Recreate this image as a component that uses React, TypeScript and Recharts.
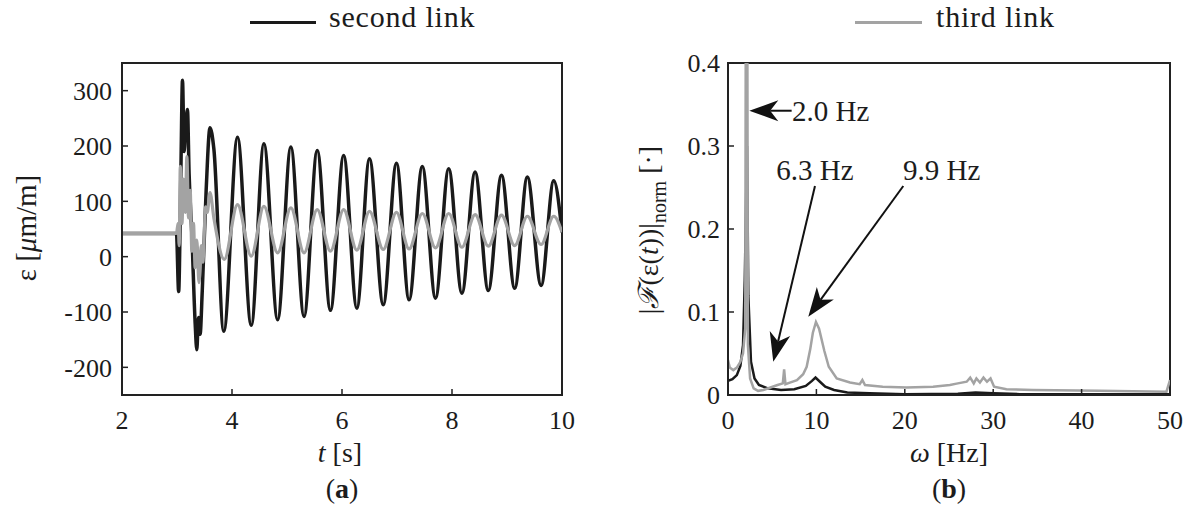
import React from 'react';
import { LineChart, Line, XAxis, YAxis, ReferenceLine, ReferenceDot, ReferenceArea } from 'recharts';

const FONT = '"Liberation Serif", "Times New Roman", serif';
const INK = '#1c1c1c';
const BLACK_LINE = '#1a1a1a';
const GRAY_LINE = '#a3a3a3';

// (a) strain vs time, peaks and troughs
const secondT = [2.0, 2.99, 3.03, 3.07, 3.1, 3.13, 3.16, 3.19, 3.22, 3.27, 3.33, 3.36, 3.39, 3.42, 3.46, 3.53, 3.6, 3.67, 3.85, 4.1, 4.35, 4.58, 4.83, 5.07, 5.31, 5.55, 5.79, 6.03, 6.27, 6.5, 6.75, 6.99, 7.22, 7.46, 7.7, 7.94, 8.18, 8.42, 8.66, 8.9, 9.14, 9.37, 9.62, 9.85, 10.0];
const secondStrain = [42, 42, -63, 150, 319, 190, 240, 266, 150, 40, -120, -168, -110, -140, -60, 120, 233, 195, -135, 216, -124, 204, -114, 198, -108, 192, -97, 183, -93, 177, -87, 169, -78, 163, -75, 159, -66, 153, -61, 147, -57, 144, -52, 137, 44];

const thirdT = [2.0, 2.99, 3.02, 3.04, 3.06, 3.09, 3.12, 3.15, 3.18, 3.21, 3.24, 3.27, 3.3, 3.33, 3.36, 3.4, 3.44, 3.47, 3.52, 3.55, 3.6, 3.67, 3.86, 4.1, 4.35, 4.58, 4.83, 5.07, 5.31, 5.55, 5.79, 6.03, 6.27, 6.5, 6.75, 6.99, 7.22, 7.46, 7.7, 7.94, 8.18, 8.42, 8.66, 8.9, 9.14, 9.37, 9.62, 9.85, 10.0];
const thirdStrain = [42, 42, 60, 20, 163, 60, 140, 80, 181, 70, 120, 10, 60, -20, 30, -47, 20, -10, 90, 80, 116, 70, -5, 94, 1, 91, 7, 88, 7, 85, 10, 85, 12, 82, 13, 80, 14, 78, 16, 78, 17, 76, 19, 75, 20, 73, 22, 73, 44];

// (b) normalised spectrum
const secondF = [0, 0.5, 1.0, 1.4, 1.7, 1.9, 2.15, 2.3, 2.6, 3.0, 3.5, 4.5, 6, 7.5, 8.8, 9.5, 9.9, 10.4, 11, 12, 13.5, 16, 20, 26, 28, 30, 33, 50];
const secondAmp = [0.017, 0.019, 0.024, 0.035, 0.06, 0.14, 0.3, 0.12, 0.04, 0.02, 0.012, 0.008, 0.006, 0.007, 0.011, 0.017, 0.021, 0.016, 0.01, 0.006, 0.003, 0.002, 0.001, 0.0015, 0.003, 0.002, 0.001, 0.001];

const thirdF = [0, 0.2, 0.6, 1.0, 1.4, 1.7, 1.95, 2.1, 2.25, 2.5, 2.9, 3.4, 4.0, 4.8, 5.6, 6.2, 6.35, 6.5, 7.0, 7.8, 8.5, 8.9, 9.3, 9.6, 9.95, 10.3, 10.9, 11.4, 12.3, 13.8, 14.9, 15.2, 15.5, 17.5, 20.2, 23.2, 25.1, 26, 27, 27.4, 27.8, 28.1, 28.5, 28.9, 29.3, 29.7, 30.1, 31.5, 34.5, 42, 49.6, 50];
const thirdAmp = [0.042, 0.033, 0.03, 0.033, 0.04, 0.05, 0.08, 1.0, 0.06, 0.02, 0.008, 0.005, 0.006, 0.009, 0.012, 0.014, 0.031, 0.013, 0.015, 0.018, 0.025, 0.034, 0.055, 0.075, 0.088, 0.08, 0.053, 0.034, 0.02, 0.015, 0.013, 0.018, 0.012, 0.01, 0.009, 0.01, 0.012, 0.014, 0.016, 0.021, 0.014, 0.02, 0.015, 0.021, 0.016, 0.02, 0.01, 0.007, 0.006, 0.005, 0.004, 0.018];

const timeTicks = [2, 4, 6, 8, 10];
const strainTicks = [-200, -100, 0, 100, 200, 300];
const freqTicks = [0, 10, 20, 30, 40, 50];
const ampTicks = [0, 0.1, 0.2, 0.3, 0.4];

// peak annotations in (f, amplitude) units
const peakLabels = [
  { text: '2.0 Hz', f: 7.25, amp: 0.3425, anchor: 'start' },
  { text: '6.3 Hz', f: 9.84, amp: 0.271, anchor: 'middle' },
  { text: '9.9 Hz', f: 24.17, amp: 0.271, anchor: 'middle' },
];
const peakArrows = [
  { f1: 7.2, a1: 0.3425, f2: 2.41, a2: 0.3425 },
  { f1: 9.84, a1: 0.2518, f2: 5.12, a2: 0.0401 },
  { f1: 19.83, a1: 0.2518, f2: 9.08, a2: 0.0943 },
];

const toRows = (xs: number[], ys: number[], xk: string, yk: string) =>
  xs.map((x, i) => ({ [xk]: x, [yk]: ys[i] }));

const secondTime = toRows(secondT, secondStrain, 't', 'v');
const thirdTime = toRows(thirdT, thirdStrain, 't', 'v');
const secondSpec = toRows(secondF, secondAmp, 'f', 'v');
const thirdSpec = toRows(thirdF, thirdAmp, 'f', 'v');

const tickFont = { fill: INK, fontSize: 26, fontFamily: FONT };
const frame = { stroke: '#222', strokeWidth: 2 };
const tickMark = { stroke: '#222', strokeWidth: 1.5 };
const blank = () => '';
const margin = { top: 63, bottom: 53 };

const Arrow = (props: any) => {
  const { x1, y1, x2, y2 } = props;
  const ang = Math.atan2(y2 - y1, x2 - x1);
  const c = Math.cos(ang);
  const s = Math.sin(ang);
  const len = 29;
  const half = 10.5;
  const bx = x2 - len * c;
  const by = y2 - len * s;
  const nx = x2 - len * 0.72 * c;
  const ny = y2 - len * 0.72 * s;
  const pts = [
    [x2, y2],
    [bx - s * half, by + c * half],
    [nx, ny],
    [bx + s * half, by - c * half],
  ].map((p) => p.join(',')).join(' ');
  return (
    <g>
      <line x1={x1} y1={y1} x2={nx} y2={ny} stroke="#111" strokeWidth={2} />
      <polygon points={pts} fill="#111" />
    </g>
  );
};

const labelShape = (text: string, anchor: string) => (p: any) => (
  <text x={p.cx} y={p.cy + 10} textAnchor={anchor} fontSize={29} fontFamily={FONT} fill={INK}>
    {text}
  </text>
);

function TimePanel() {
  return (
    <LineChart width={600} height={508} margin={{ ...margin, left: 22, right: 38 }}>
      <XAxis dataKey="t" type="number" domain={[2, 10]} ticks={timeTicks} interval={0} allowDataOverflow
        height={60} tickSize={-6} tickMargin={22} axisLine={frame} tickLine={tickMark} tick={tickFont} />
      <XAxis xAxisId="top" dataKey="t" orientation="top" type="number" domain={[2, 10]} ticks={timeTicks} interval={0}
        allowDataOverflow height={0} tickSize={-6} axisLine={frame} tickLine={tickMark} tickFormatter={blank} />
      <YAxis type="number" domain={[-250, 350]} ticks={strainTicks} interval={0} allowDataOverflow width={100}
        tickSize={-6} tickMargin={16} axisLine={frame} tickLine={tickMark} tick={tickFont} />
      <YAxis yAxisId="right" orientation="right" type="number" domain={[-250, 350]} ticks={strainTicks}
        interval={0} allowDataOverflow width={0} tickSize={-6} axisLine={frame} tickLine={tickMark} tickFormatter={blank} />
      {/* invisible copy so the top/right frame axes get drawn */}
      <Line data={thirdTime} dataKey="v" xAxisId="top" yAxisId="right" stroke="none" strokeWidth={0} dot={false} activeDot={false} isAnimationActive={false} />
      <Line data={secondTime} dataKey="v" type="monotone" stroke={BLACK_LINE} strokeWidth={3.5} dot={false} isAnimationActive={false} />
      <Line data={thirdTime} dataKey="v" type="monotone" stroke={GRAY_LINE} strokeWidth={3.2} dot={false} isAnimationActive={false} />
      <ReferenceArea x1={2} x2={10} y1={-250} y2={350} fill="none" stroke="#222" strokeWidth={2} ifOverflow="visible" />
    </LineChart>
  );
}

function SpectrumPanel() {
  return (
    <LineChart width={589} height={508} margin={{ ...margin, left: 28, right: 19 }}>
      <XAxis dataKey="f" type="number" domain={[0, 50]} ticks={freqTicks} interval={0} allowDataOverflow
        height={60} tickSize={-6} tickMargin={22} axisLine={frame} tickLine={tickMark} tick={tickFont} />
      <XAxis xAxisId="top" dataKey="f" orientation="top" type="number" domain={[0, 50]} ticks={freqTicks} interval={0}
        allowDataOverflow height={0} tickSize={-6} axisLine={frame} tickLine={tickMark} tickFormatter={blank} />
      <YAxis type="number" domain={[0, 0.4]} ticks={ampTicks} interval={0} allowDataOverflow width={100}
        tickSize={-6} tickMargin={14} axisLine={frame} tickLine={tickMark} tick={tickFont} />
      <YAxis yAxisId="right" orientation="right" type="number" domain={[0, 0.4]} ticks={ampTicks}
        interval={0} allowDataOverflow width={0} tickSize={-6} axisLine={frame} tickLine={tickMark} tickFormatter={blank} />
      <Line data={thirdSpec} dataKey="v" xAxisId="top" yAxisId="right" stroke="none" strokeWidth={0} dot={false} activeDot={false} isAnimationActive={false} />
      <Line data={secondSpec} dataKey="v" type="linear" stroke={BLACK_LINE} strokeWidth={2.5} dot={false} isAnimationActive={false} />
      <Line data={thirdSpec} dataKey="v" type="linear" stroke={GRAY_LINE} strokeWidth={2.5} dot={false} isAnimationActive={false} />
      <ReferenceArea x1={0} x2={50} y1={0} y2={0.4} fill="none" stroke="#222" strokeWidth={2} ifOverflow="visible" />
      {peakArrows.map((a, i) => (
        <ReferenceLine key={'a' + i} segment={[{ x: a.f1, y: a.a1 }, { x: a.f2, y: a.a2 }]} ifOverflow="visible" shape={Arrow} />
      ))}
      {peakLabels.map((l) => (
        <ReferenceDot key={l.text} x={l.f} y={l.amp} r={0} ifOverflow="visible" shape={labelShape(l.text, l.anchor)} />
      ))}
    </LineChart>
  );
}

export default function App() {
  const txt = { fontFamily: FONT, fill: INK };
  return (
    <div style={{ position: 'relative', width: 1189, height: 508, background: '#fff' }}>
      <style>{'body{margin:0;}'}</style>
      <div style={{ position: 'absolute', left: 0, top: 0 }}>
        <TimePanel />
      </div>
      <div style={{ position: 'absolute', left: 600, top: 0 }}>
        <SpectrumPanel />
      </div>
      <svg width={1189} height={508} style={{ position: 'absolute', left: 0, top: 0, pointerEvents: 'none' }}>
        <line x1={250} x2={316} y1={22.5} y2={22.5} stroke={BLACK_LINE} strokeWidth={3} />
        <text x={329} y={27} fontSize={30} letterSpacing={0.8} {...txt}>second link</text>
        <line x1={855} x2={922} y1={22.5} y2={22.5} stroke={GRAY_LINE} strokeWidth={3} />
        <text x={936} y={27} fontSize={30} letterSpacing={0.8} {...txt}>third link</text>

        <text transform="translate(36,228) rotate(-90)" textAnchor="middle" fontSize={29} {...txt}>
          ε [<tspan fontStyle="italic">μ</tspan>m/m]
        </text>
        <text transform="translate(658,230) rotate(-90)" textAnchor="middle" fontSize={28} {...txt}>
          |<tspan fontStyle="italic">ℱ</tspan>(ε(<tspan fontStyle="italic">t</tspan>))|
          <tspan fontSize={20} dy={8}>norm</tspan>
          <tspan dy={-8}> [·]</tspan>
        </text>

        <text x={340} y={462} textAnchor="middle" fontSize={28} {...txt}>
          <tspan fontStyle="italic">t</tspan> [s]
        </text>
        <text x={342} y={498} textAnchor="middle" fontSize={28} {...txt}>
          (<tspan fontWeight="bold">a</tspan>)
        </text>
        <text x={949} y={462} textAnchor="middle" fontSize={28} {...txt}>
          <tspan fontStyle="italic">ω</tspan> [Hz]
        </text>
        <text x={949} y={498} textAnchor="middle" fontSize={28} {...txt}>
          (<tspan fontWeight="bold">b</tspan>)
        </text>
      </svg>
    </div>
  );
}
